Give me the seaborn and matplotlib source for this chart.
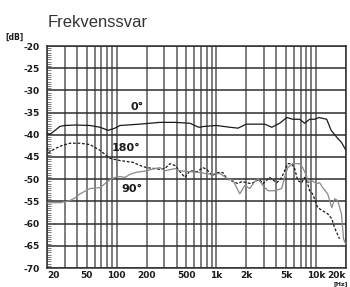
import matplotlib
matplotlib.use('Agg')
from matplotlib import pyplot as plt
from matplotlib.ticker import MultipleLocator, NullFormatter
import seaborn as sns

# Frequency response, 0 degrees
freq_0 = [20, 21.4, 24.1, 27, 30.3, 38.2, 54, 68, 82, 96, 108, 171, 272, 384, 543, 665, 767,
          1000, 1366, 1650, 2000, 3060, 3600, 4324, 5100, 5850, 6855, 7692, 8631, 9685, 10700,
          12800, 14200, 16500, 18000, 20000]
db_0 = [-39.7, -39.9, -39.0, -38.1, -37.9, -37.8, -37.9, -38.3, -39.0, -38.5, -37.9, -37.6, -37.2,
        -37.2, -37.4, -38.3, -38.1, -37.9, -38.3, -38.5, -37.6, -37.6, -38.3, -37.4, -36.1, -36.5,
        -36.5, -37.4, -36.5, -36.5, -36.1, -36.5, -39.0, -40.8, -41.7, -43.5]

# 180 degrees (dashed)
freq_180 = [20, 20.9, 24.1, 28.4, 34.1, 42.9, 54, 68, 85.6, 108, 146, 171, 200, 242, 272, 305, 342,
            384, 431, 484, 543, 640, 735, 805, 905, 1040, 1160, 1280, 1470, 1650, 1810, 2000, 2250,
            2530, 2730, 2930, 3430, 4040, 4530, 4850, 5200, 5700, 6110, 6550, 7180, 7690, 8240,
            8630, 9250, 10400, 11650, 13100, 14400, 15400, 16500, 17200]
db_180 = [-42.9, -44.0, -43.1, -42.4, -41.9, -41.9, -42.2, -43.5, -45.3, -45.8, -46.2, -46.9, -47.4,
          -47.6, -47.8, -47.6, -46.5, -46.9, -48.3, -49.6, -48.1, -48.3, -47.4, -47.8, -49.2, -48.5,
          -48.5, -49.9, -50.5, -51.0, -50.5, -50.8, -51.0, -50.3, -50.1, -51.0, -49.6, -50.8, -49.6,
          -48.1, -46.5, -46.5, -47.6, -50.3, -50.8, -49.6, -51.0, -52.6, -53.3, -56.4, -57.1, -57.8,
          -58.9, -61.0, -62.5, -63.4]

# 90 degrees (grey)
freq_90 = [20, 27, 34.1, 38.2, 42.9, 54, 68, 76.3, 85.6, 96.1, 108, 121, 136, 153, 200, 242, 272,
           305, 384, 431, 543, 684, 861, 1084, 1300, 1470, 1600, 1720, 1930, 2166, 2380, 2620, 2930,
           3290, 3850, 4530, 4850, 5200, 5850, 6855, 7350, 8020, 8420, 9060, 10200, 10870, 11670,
           13100, 14400, 15400, 16500, 18000, 18900, 19800]
db_90 = [-55.3, -55.3, -54.8, -54.2, -53.3, -52.1, -51.9, -51.0, -50.1, -49.6, -49.4, -49.6, -48.9,
         -48.5, -48.1, -47.6, -47.4, -48.1, -47.6, -48.1, -48.3, -48.5, -48.9, -48.7, -49.9, -50.3,
         -51.9, -53.3, -51.4, -52.1, -50.8, -49.9, -51.4, -52.6, -52.6, -52.1, -49.6, -47.4, -46.5,
         -46.5, -47.4, -49.2, -50.8, -50.3, -51.0, -50.8, -51.9, -53.3, -56.4, -54.4, -54.8, -57.8,
         -63.4, -64.6]

# grid and tick labels
grid_freqs = ([20, 30, 40, 50, 60, 70, 80, 90, 100, 200, 300, 400, 500, 600, 700, 800, 900,
               1000, 2000, 3000, 4000, 5000, 6000, 7000, 8000, 9000, 10000, 20000])
x_tick_vals = [20, 50, 100, 200, 500, 1000, 2000, 5000, 10000, 20000]
x_tick_labels = ['20', '50', '100', '200', '500', '1k', '2k', '5k', '10k', '20k']
y_tick_vals = [-20, -25, -30, -35, -40, -45, -50, -55, -60, -65, -70]

sns.set_style('white')
plt.rcParams['font.family'] = ['DejaVu Sans']

fig = plt.figure(figsize=(3.5, 2.87), dpi=100)
ax = fig.add_axes([47 / 350, 1 - 268 / 287, 299 / 350, 222 / 287])

ax.set_xscale('log')
ax.set_xlim(20, 20000)
ax.set_ylim(-70, -20)

# grid lines
for f in grid_freqs:
    ax.axvline(f, color='#5a5a5a', lw=1.1, zorder=1)
for v in y_tick_vals:
    ax.axhline(v, color='#2e2e2e', lw=1.1, zorder=1)

# curves
sns.lineplot(x=freq_0, y=db_0, ax=ax, color='#1a1a1a', lw=0.9, zorder=3)
sns.lineplot(x=freq_180, y=db_180, ax=ax, color='#1a1a1a', lw=0.9,
             linestyle=(0, (2.2, 1.4)), zorder=3)
sns.lineplot(x=freq_90, y=db_90, ax=ax, color='#8a8a8a', lw=0.9, zorder=3)

# curve labels
lab = dict(fontsize=8, fontweight='bold', color='#1a1a1a', ha='center', va='center')
ax.text(160, -33.8, '0°', **lab)
ax.text(124, -42.9, '180°', **lab)
ax.text(143, -52.1, '90°', **lab)

# ticks
ax.set_xticks(x_tick_vals)
ax.set_xticklabels(x_tick_labels)
ax.xaxis.set_minor_formatter(NullFormatter())
ax.set_yticks(y_tick_vals)
ax.set_yticklabels([str(v) for v in y_tick_vals])
ax.yaxis.set_minor_locator(MultipleLocator(0.5))
ax.tick_params(axis='x', which='both', length=0, pad=2)
ax.tick_params(axis='y', which='major', length=0, pad=5)
ax.tick_params(axis='y', which='minor', direction='in', length=3, width=0.5, color='#444444', left=True)
for t in ax.get_xticklabels() + ax.get_yticklabels():
    t.set_fontsize(6.5)
    t.set_fontweight('bold')
    t.set_color('#1a1a1a')
xl = ax.get_xticklabels()
xl[0].set_horizontalalignment('left')
xl[-1].set_horizontalalignment('right')

for s in ax.spines.values():
    s.set_color('#2e2e2e')
    s.set_linewidth(1.1)
ax.set_xlabel('')
ax.set_ylabel('')

# title and unit labels
fig.text(48 / 350, 1 - 27 / 287, 'Frekvenssvar', fontsize=12, color='#333333',
         family='Liberation Sans', va='baseline')
fig.text(5 / 350, 1 - 37 / 287, '[dB]', fontsize=5.5, fontweight='bold', color='#1a1a1a', va='center')
fig.text(334 / 350, 1 - 286 / 287, '[Hz]', fontsize=4.5, fontweight='bold', color='#1a1a1a', va='bottom')

plt.savefig('out.png', dpi=100)
